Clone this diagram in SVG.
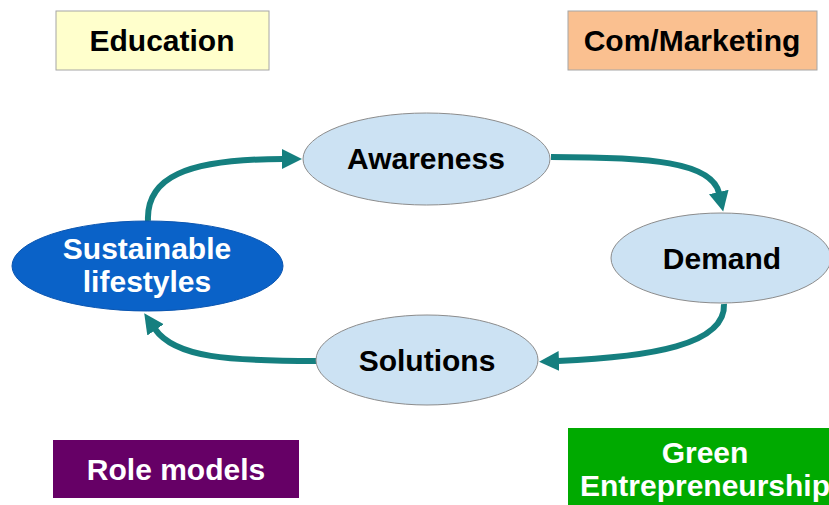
<svg xmlns="http://www.w3.org/2000/svg" width="829" height="505" viewBox="0 0 829 505">
<defs>
<style>
.t{font-family:"Liberation Sans",Arial,sans-serif;font-weight:bold;font-size:30px;text-anchor:middle}
.dk{fill:#000}
.wt{fill:#fff}
.box{stroke:#a6a6a6;stroke-width:1}
.ell{fill:#cce2f3;stroke:#8c8c8c;stroke-width:1}
.con{fill:none;stroke:#157f7f;stroke-width:6}
</style>
<marker id="ah" markerUnits="userSpaceOnUse" markerWidth="22" markerHeight="22" viewBox="0 0 22 22" refX="1" refY="10" orient="auto">
<path d="M0,0 L20,10 L0,20 Z" fill="#157f7f"/>
</marker>
</defs>
<rect width="829" height="505" fill="#fff"/>
<g id="connectors">
<path class="con" d="M148,221 C146,178 185,159 283,159" marker-end="url(#ah)"/>
<path class="con" d="M551,157 C650,157 712,162 719,193" marker-end="url(#ah)"/>
<path class="con" d="M724,304 C726,345 650,357 558,361" marker-end="url(#ah)"/>
<path class="con" d="M316,361 C230,361 175,358 155,329" marker-end="url(#ah)"/>
</g>
<g id="education">
<rect class="box" x="56" y="11" width="213" height="59" fill="#ffffcc"/>
<text class="t dk" x="162" y="51">Education</text>
</g>
<g id="com-marketing">
<rect class="box" x="568" y="11" width="249" height="59" fill="#fac090"/>
<text class="t dk" x="692" y="51">Com/Marketing</text>
</g>
<g id="awareness">
<ellipse class="ell" cx="426.5" cy="159" rx="123.5" ry="46"/>
<text class="t dk" x="426" y="169">Awareness</text>
</g>
<g id="demand">
<ellipse class="ell" cx="721" cy="258" rx="110" ry="45"/>
<text class="t dk" x="722" y="269">Demand</text>
</g>
<g id="solutions">
<ellipse class="ell" cx="427" cy="360" rx="111" ry="45"/>
<text class="t dk" x="427" y="371">Solutions</text>
</g>
<g id="sustainable-lifestyles">
<ellipse cx="147.5" cy="266" rx="135.5" ry="45" fill="#0a62c8" stroke="#0a55b0" stroke-width="1"/>
<text class="t wt" x="147" y="259">Sustainable</text>
<text class="t wt" x="147" y="292">lifestyles</text>
</g>
<g id="role-models">
<rect x="53" y="440" width="246" height="58" fill="#660066"/>
<text class="t wt" x="176" y="480">Role models</text>
</g>
<g id="green-entrepreneurship">
<rect x="568" y="428" width="263" height="80" fill="#00aa00"/>
<text class="t wt" x="705" y="463">Green</text>
<text class="t wt" x="705" y="496">Entrepreneurship</text>
</g>
</svg>
